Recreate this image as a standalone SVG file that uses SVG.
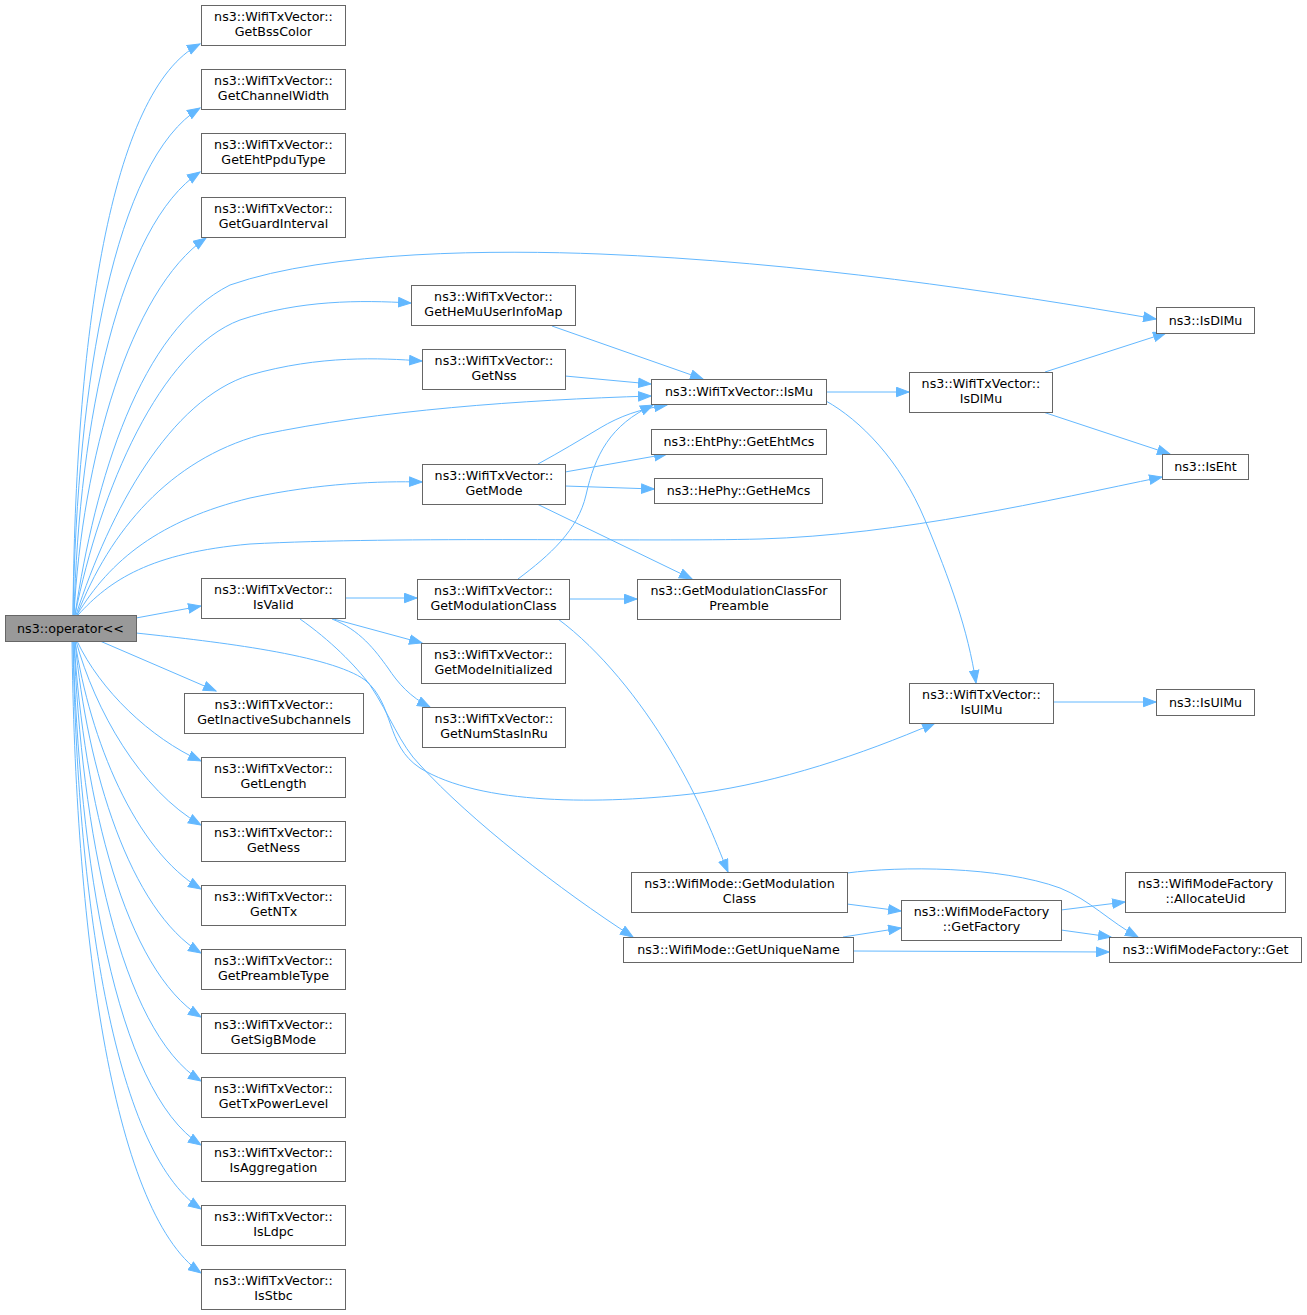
<svg xmlns="http://www.w3.org/2000/svg" width="1307" height="1315" viewBox="0 0 1307 1315">
<style>
.n rect{fill:#ffffff;stroke:#666666;stroke-width:1}
.r rect{fill:#999999;stroke:#666666;stroke-width:1}
text{font-family:"DejaVu Sans","Liberation Sans",sans-serif;font-size:12.67px;fill:#000000;text-anchor:middle}
#edges path{fill:none;stroke:#63b8ff;stroke-width:1;marker-end:url(#a)}
</style>
<defs>
<marker id="a" markerUnits="userSpaceOnUse" viewBox="0 0 14 11" markerWidth="14" markerHeight="11" refX="13" refY="5.5" orient="auto">
<path d="M0.5,0.8 L13,5.5 L0.5,10.2 z" fill="#63b8ff" stroke="#63b8ff" stroke-width="1"/>
</marker>
</defs>
<rect width="1307" height="1315" fill="#ffffff"/>
<g id="edges">
<path d="M73,615 C75,340 110,90 200,44"/>
<path d="M73,615 C77,380 115,160 200,108"/>
<path d="M74,615 C79,420 120,225 200,172"/>
<path d="M74,615 C82,460 130,290 206,238"/>
<path d="M75,615 C95,480 140,330 230,285 C330,250 500,250 600,254 C800,262 1000,292 1156,319"/>
<path d="M75,615 C100,490 160,350 240,320 C300,300 360,300 411,303"/>
<path d="M76,615 C110,510 170,400 250,375 C320,355 380,358 422,361"/>
<path d="M77,615 C110,530 170,460 260,435 C380,410 520,400 651,396"/>
<path d="M77,615 C110,560 160,520 250,498 C320,483 380,481 422,482"/>
<path d="M78,615 C110,580 150,553 250,544 C400,536 650,542 760,539 C900,535 1050,500 1162,477"/>
<path d="M136,618 L201,606"/>
<path d="M136,633 C220,642 330,655 365,680 C395,705 385,745 420,768 C480,805 600,805 700,793 C780,782 860,755 935,723"/>
<path d="M100,641 L216,691"/>
<path d="M77,641 C100,690 150,738 201,761"/>
<path d="M76,641 C95,710 140,790 201,825"/>
<path d="M75,641 C90,740 135,850 201,889"/>
<path d="M75,641 C87,770 130,910 201,953"/>
<path d="M74,641 C84,800 125,970 201,1017"/>
<path d="M74,641 C81,830 120,1030 201,1081"/>
<path d="M73,641 C79,860 115,1090 201,1145"/>
<path d="M73,641 C77,890 112,1150 201,1209"/>
<path d="M72,641 C75,920 110,1210 201,1273"/>
<path d="M345,598 L417,598"/>
<path d="M330,618 L422,643"/>
<path d="M332,619 C360,630 375,650 388,668 C398,683 410,697 430,707"/>
<path d="M300,619 C330,640 355,665 370,685 C390,715 400,745 420,765 C470,820 560,890 633,937"/>
<path d="M569,599 L637,599"/>
<path d="M518,579 C550,555 578,530 586,495 C595,455 610,425 653,405"/>
<path d="M558,619 C600,650 640,700 670,750 C700,800 715,840 728,872"/>
<path d="M538,464 C560,452 580,440 600,428 C620,416 640,409 667,405"/>
<path d="M565,472 L667,454"/>
<path d="M565,486 L654,489"/>
<path d="M537,504 L692,579"/>
<path d="M565,376 L651,384"/>
<path d="M552,326 L703,379"/>
<path d="M826,392 L909,392"/>
<path d="M826,401 C860,420 900,460 925,520 C950,580 968,630 976,683"/>
<path d="M1045,372 L1166,333"/>
<path d="M1043,412 L1170,454"/>
<path d="M1053,702 L1156,702"/>
<path d="M847,873 C900,866 1000,866 1060,888 C1090,900 1110,922 1138,937"/>
<path d="M847,904 L901,911"/>
<path d="M843,937 L901,928"/>
<path d="M853,951 L1109,952"/>
<path d="M1061,910 L1125,902"/>
<path d="M1061,930 L1111,937"/>
</g>
<g id="root" class="r"><rect x="5.5" y="615.5" width="131" height="26"/><text x="70.5" y="632.5">ns3::operator&lt;&lt;</text></g>
<g id="getBssColor" class="n"><rect x="201.5" y="5.5" width="144" height="40"/><text x="273.5" y="21">ns3::WifiTxVector::</text><text x="273.5" y="36">GetBssColor</text></g>
<g id="getChannelWidth" class="n"><rect x="201.5" y="69.5" width="144" height="40"/><text x="273.5" y="85">ns3::WifiTxVector::</text><text x="273.5" y="100">GetChannelWidth</text></g>
<g id="getEhtPpduType" class="n"><rect x="201.5" y="133.5" width="144" height="40"/><text x="273.5" y="149">ns3::WifiTxVector::</text><text x="273.5" y="164">GetEhtPpduType</text></g>
<g id="getGuardInterval" class="n"><rect x="201.5" y="197.5" width="144" height="40"/><text x="273.5" y="213">ns3::WifiTxVector::</text><text x="273.5" y="228">GetGuardInterval</text></g>
<g id="isValid" class="n"><rect x="201.5" y="578.5" width="144" height="40"/><text x="273.5" y="594">ns3::WifiTxVector::</text><text x="273.5" y="609">IsValid</text></g>
<g id="getInactiveSubchannels" class="n"><rect x="184.5" y="693.5" width="179" height="40"/><text x="274" y="709">ns3::WifiTxVector::</text><text x="274" y="724">GetInactiveSubchannels</text></g>
<g id="getLength" class="n"><rect x="201.5" y="757.5" width="144" height="40"/><text x="273.5" y="773">ns3::WifiTxVector::</text><text x="273.5" y="788">GetLength</text></g>
<g id="getNess" class="n"><rect x="201.5" y="821.5" width="144" height="40"/><text x="273.5" y="837">ns3::WifiTxVector::</text><text x="273.5" y="852">GetNess</text></g>
<g id="getNTx" class="n"><rect x="201.5" y="885.5" width="144" height="40"/><text x="273.5" y="901">ns3::WifiTxVector::</text><text x="273.5" y="916">GetNTx</text></g>
<g id="getPreambleType" class="n"><rect x="201.5" y="949.5" width="144" height="40"/><text x="273.5" y="965">ns3::WifiTxVector::</text><text x="273.5" y="980">GetPreambleType</text></g>
<g id="getSigBMode" class="n"><rect x="201.5" y="1013.5" width="144" height="40"/><text x="273.5" y="1029">ns3::WifiTxVector::</text><text x="273.5" y="1044">GetSigBMode</text></g>
<g id="getTxPowerLevel" class="n"><rect x="201.5" y="1077.5" width="144" height="40"/><text x="273.5" y="1093">ns3::WifiTxVector::</text><text x="273.5" y="1108">GetTxPowerLevel</text></g>
<g id="isAggregation" class="n"><rect x="201.5" y="1141.5" width="144" height="40"/><text x="273.5" y="1157">ns3::WifiTxVector::</text><text x="273.5" y="1172">IsAggregation</text></g>
<g id="isLdpc" class="n"><rect x="201.5" y="1205.5" width="144" height="40"/><text x="273.5" y="1221">ns3::WifiTxVector::</text><text x="273.5" y="1236">IsLdpc</text></g>
<g id="isStbc" class="n"><rect x="201.5" y="1269.5" width="144" height="40"/><text x="273.5" y="1285">ns3::WifiTxVector::</text><text x="273.5" y="1300">IsStbc</text></g>
<g id="getHeMuUserInfoMap" class="n"><rect x="411.5" y="285.5" width="164" height="40"/><text x="493.5" y="301">ns3::WifiTxVector::</text><text x="493.5" y="316">GetHeMuUserInfoMap</text></g>
<g id="getNss" class="n"><rect x="422.5" y="349.5" width="143" height="40"/><text x="494" y="365">ns3::WifiTxVector::</text><text x="494" y="380">GetNss</text></g>
<g id="getMode" class="n"><rect x="422.5" y="464.5" width="143" height="40"/><text x="494" y="480">ns3::WifiTxVector::</text><text x="494" y="495">GetMode</text></g>
<g id="getModulationClass" class="n"><rect x="417.5" y="579.5" width="152" height="40"/><text x="493.5" y="595">ns3::WifiTxVector::</text><text x="493.5" y="610">GetModulationClass</text></g>
<g id="getModeInitialized" class="n"><rect x="421.5" y="643.5" width="144" height="40"/><text x="493.5" y="659">ns3::WifiTxVector::</text><text x="493.5" y="674">GetModeInitialized</text></g>
<g id="getNumStasInRu" class="n"><rect x="422.5" y="707.5" width="143" height="40"/><text x="494" y="723">ns3::WifiTxVector::</text><text x="494" y="738">GetNumStasInRu</text></g>
<g id="isMu" class="n"><rect x="651.5" y="379.5" width="175" height="25"/><text x="739" y="396">ns3::WifiTxVector::IsMu</text></g>
<g id="getEhtMcs" class="n"><rect x="651.5" y="429.5" width="175" height="25"/><text x="739" y="446">ns3::EhtPhy::GetEhtMcs</text></g>
<g id="getHeMcs" class="n"><rect x="654.5" y="478.5" width="168" height="25"/><text x="738.5" y="495">ns3::HePhy::GetHeMcs</text></g>
<g id="getModulationClassForPreamble" class="n"><rect x="637.5" y="579.5" width="203" height="40"/><text x="739" y="595">ns3::GetModulationClassFor</text><text x="739" y="610">Preamble</text></g>
<g id="wifiModeGetModulationClass" class="n"><rect x="631.5" y="872.5" width="216" height="40"/><text x="739.5" y="888">ns3::WifiMode::GetModulation</text><text x="739.5" y="903">Class</text></g>
<g id="getUniqueName" class="n"><rect x="623.5" y="937.5" width="230" height="25"/><text x="738.5" y="954">ns3::WifiMode::GetUniqueName</text></g>
<g id="txIsDlMu" class="n"><rect x="909.5" y="372.5" width="143" height="40"/><text x="981" y="388">ns3::WifiTxVector::</text><text x="981" y="403">IsDlMu</text></g>
<g id="txIsUlMu" class="n"><rect x="909.5" y="683.5" width="144" height="40"/><text x="981.5" y="699">ns3::WifiTxVector::</text><text x="981.5" y="714">IsUlMu</text></g>
<g id="getFactory" class="n"><rect x="901.5" y="900.5" width="160" height="40"/><text x="981.5" y="916">ns3::WifiModeFactory</text><text x="981.5" y="931">::GetFactory</text></g>
<g id="isDlMu" class="n"><rect x="1156.5" y="307.5" width="98" height="26"/><text x="1205.5" y="325">ns3::IsDlMu</text></g>
<g id="isEht" class="n"><rect x="1162.5" y="454.5" width="86" height="25"/><text x="1205.5" y="471">ns3::IsEht</text></g>
<g id="isUlMu" class="n"><rect x="1156.5" y="689.5" width="98" height="26"/><text x="1205.5" y="707">ns3::IsUlMu</text></g>
<g id="allocateUid" class="n"><rect x="1125.5" y="872.5" width="160" height="40"/><text x="1205.5" y="888">ns3::WifiModeFactory</text><text x="1205.5" y="903">::AllocateUid</text></g>
<g id="factoryGet" class="n"><rect x="1109.5" y="937.5" width="192" height="25"/><text x="1205.5" y="954">ns3::WifiModeFactory::Get</text></g>
</svg>
